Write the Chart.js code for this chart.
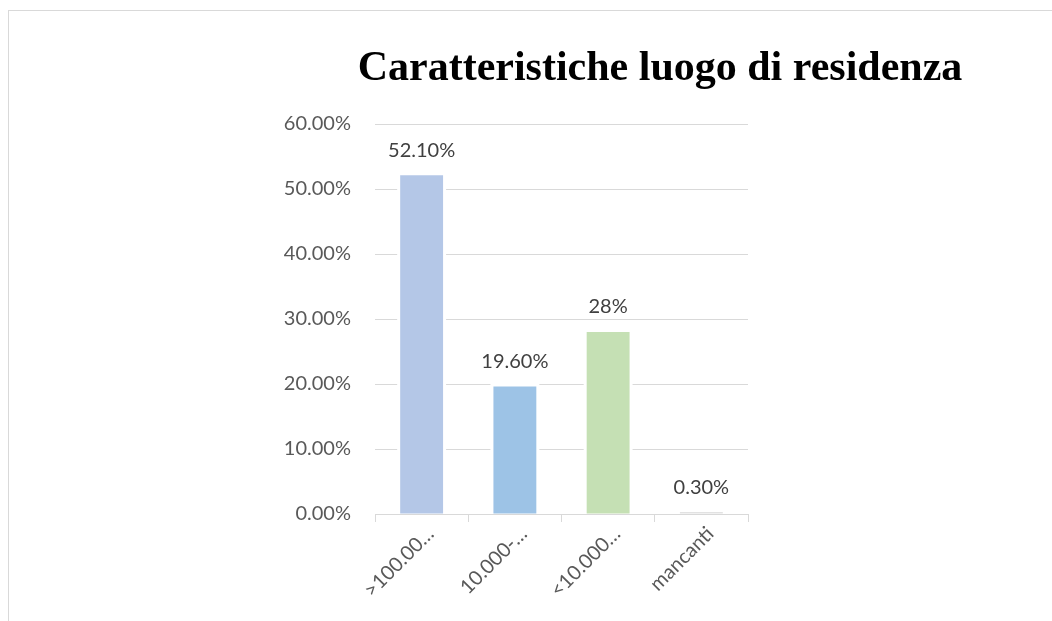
<!DOCTYPE html>
<html>
<head>
<meta charset="utf-8">
<script src="https://cdn.jsdelivr.net/npm/chart.js@4/dist/chart.umd.min.js"></script>
<style>
  html, body { margin: 0; padding: 0; background: #fff; overflow: hidden; }
  #wrap { position: relative; width: 1052px; height: 621px; }
  #frame { position: absolute; left: 8px; top: 10px; width: 1100px; height: 700px; border: 1px solid #d9d9d9; box-sizing: border-box; }
  #title { position: absolute; left: 660px; top: 45px; transform: translateX(-50%); white-space: nowrap;
           font-family: "Liberation Serif", "Times New Roman", serif; font-weight: bold; font-size: 42px; line-height: 1; color: #000; }
  canvas { position: absolute; left: 0; top: 0; }
</style>
</head>
<body>
<div id="wrap">
  <div id="frame"></div>
  <canvas id="c" width="1052" height="621"></canvas>
  <div id="title">Caratteristiche luogo di residenza</div>
</div>
<script>
// Residence-area categories (labels as shown, truncated) and their shares in percent
const categories = ['>100.00…', '10.000-…', '<10.000…', 'mancanti'];
const shares = [52.1, 19.6, 28, 0.3];
const shareDecimals = [2, 2, 0, 2];
const barColors = ['#B4C7E7', '#9DC3E6', '#C5E0B4', '#E2E2E2'];
const yTicks = [0, 10, 20, 30, 40, 50, 60];

const FONT = 'Lato, "Open Sans", sans-serif';
const FONT_SIZE = 20;

// white halo behind each bar, so gridlines stop short of the bars
const barHalo = {
  id: 'barHalo',
  beforeDatasetsDraw(chart) {
    const ctx = chart.ctx;
    const meta = chart.getDatasetMeta(0);
    ctx.save();
    ctx.fillStyle = '#ffffff';
    meta.data.forEach(el => {
      const { x, y, base, width } = el.getProps(['x', 'y', 'base', 'width']);
      ctx.fillRect(x - width / 2 - 3, y - 3, width + 6, base - y + 2);
    });
    ctx.restore();
  }
};

// value labels above each bar
const valueLabels = {
  id: 'valueLabels',
  afterDatasetsDraw(chart) {
    const ctx = chart.ctx;
    const meta = chart.getDatasetMeta(0);
    ctx.save();
    ctx.font = FONT_SIZE + 'px ' + FONT;
    ctx.fillStyle = '#404040';
    ctx.textAlign = 'center';
    ctx.textBaseline = 'middle';
    meta.data.forEach((el, i) => {
      const txt = shares[i].toFixed(shareDecimals[i]) + '%';
      ctx.fillText(txt, el.x, el.y - 25);
    });
    ctx.restore();
  }
};

new Chart(document.getElementById('c'), {
  type: 'bar',
  data: {
    labels: categories,
    datasets: [{
      data: shares,
      backgroundColor: barColors,
      borderWidth: 0,
      barPercentage: 0.46,
      categoryPercentage: 1
    }]
  },
  options: {
    responsive: false,
    animation: false,
    devicePixelRatio: 1,
    layout: { padding: { left: 0, right: 304, top: 124, bottom: 0 } },
    plugins: {
      legend: { display: false },
      title: { display: false },
      tooltip: { enabled: false }
    },
    scales: {
      x: {
        offset: true,
        grid: { display: true, drawOnChartArea: false, drawTicks: true, tickLength: 8, color: '#d9d9d9', lineWidth: 1, offset: true },
        border: { display: true, color: '#d9d9d9', width: 1 },
        ticks: { color: '#595959', font: { family: FONT, size: FONT_SIZE }, maxRotation: 45, minRotation: 45, autoSkip: false, padding: 0, labelOffset: 9 },
        afterFit(scale) { scale.height = 107; }
      },
      y: {
        min: 0,
        max: 60,
        afterBuildTicks(scale) { scale.ticks = yTicks.map(v => ({ value: v })); },
        grid: { color: '#d9d9d9', lineWidth: 1, drawTicks: false },
        border: { display: false },
        ticks: {
          color: '#595959',
          font: { family: FONT, size: FONT_SIZE },
          padding: 24,
          callback: v => v.toFixed(2) + '%'
        },
        afterFit(scale) { scale.width = 375; }
      }
    }
  },
  plugins: [barHalo, valueLabels]
});
</script>
</body>
</html>
